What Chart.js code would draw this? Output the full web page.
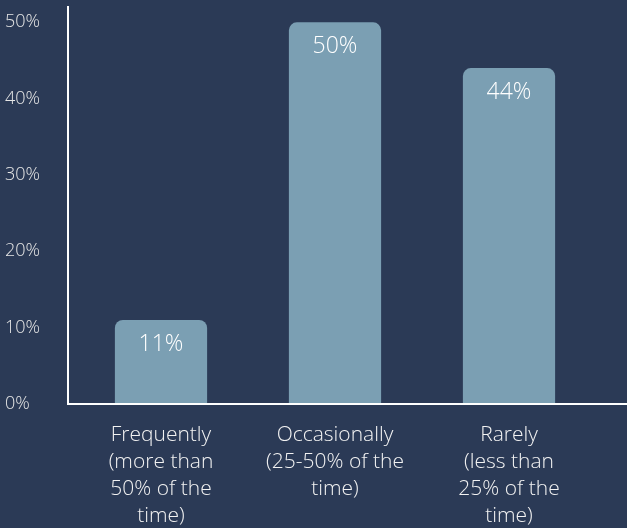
<!DOCTYPE html>
<html>
<head>
<meta charset="utf-8">
<script src="https://cdn.jsdelivr.net/npm/chart.js@4"></script>
<style>
  html, body { margin: 0; padding: 0; background: #2b3a56; }
  #wrap { width: 627px; height: 528px; }
</style>
</head>
<body>
<div id="wrap"><canvas id="chart-frecuencia"></canvas></div>
<script>
// categorias y valores (porcentaje de respuestas)
const categorias = [
  ['Frequently', '(more than', '50% of the', 'time)'],
  ['Occasionally', '(25-50% of the', 'time)'],
  ['Rarely', '(less than', '25% of the', 'time)']
];
const valores = [11, 50, 44];
const ticksY = [0, 10, 20, 30, 40, 50];

const FONDO = '#2b3a56';
const BARRA = '#7b9fb3';
const FUENTE = "'Open Sans', 'Helvetica Neue', 'Liberation Sans', sans-serif";

// etiquetas de valor dentro de cada barra + ejes dibujados a mano
const etiquetasPlugin = {
  id: 'etiquetas',
  afterDatasetsDraw(chart) {
    const ctx = chart.ctx;
    const meta = chart.getDatasetMeta(0);
    ctx.save();
    ctx.fillStyle = '#ffffff';
    ctx.font = '300 23px ' + FUENTE;
    ctx.textAlign = 'center';
    ctx.textBaseline = 'middle';
    meta.data.forEach((bar, i) => {
      ctx.fillText(valores[i] + '%', bar.x, bar.y + 24);
    });
    ctx.restore();
  },
  afterDraw(chart) {
    const ctx = chart.ctx;
    const y0 = chart.scales.y.getPixelForValue(0);
    const xEje = chart.chartArea.left - 6;
    ctx.save();
    ctx.strokeStyle = '#ffffff';
    ctx.lineWidth = 2;
    ctx.beginPath();
    ctx.moveTo(xEje, 6);
    ctx.lineTo(xEje, y0 + 1);
    ctx.moveTo(xEje, y0);
    ctx.lineTo(chart.width, y0);
    ctx.stroke();
    ctx.restore();
  }
};

new Chart(document.getElementById('chart-frecuencia'), {
  type: 'bar',
  data: {
    labels: categorias,
    datasets: [{
      data: valores,
      backgroundColor: BARRA,
      borderRadius: { topLeft: 8, topRight: 8 },
      borderSkipped: 'start',
      barPercentage: 0.53,
      categoryPercentage: 1
    }]
  },
  options: {
    responsive: true,
    maintainAspectRatio: false,
    animation: false,
    layout: { padding: { top: 20, right: 31, left: 5, bottom: 0 } },
    plugins: {
      legend: { display: false },
      tooltip: { enabled: false }
    },
    scales: {
      x: {
        grid: { display: false },
        border: { display: false },
        afterFit(scale) { scale.height = 124; },
        ticks: {
          color: '#f2f2f2',
          padding: 10,
          maxRotation: 0,
          autoSkip: false,
          font: { family: FUENTE, size: 21, weight: 300, lineHeight: '27px' }
        }
      },
      y: {
        min: 0,
        max: 50.3,
        grid: { display: false },
        border: { display: false },
        afterFit(scale) { scale.width = 69; },
        afterBuildTicks(scale) {
          scale.ticks = ticksY.map(v => ({ value: v }));
        },
        ticks: {
          color: '#e6e6e6',
          crossAlign: 'far',
          font: { family: FUENTE, size: 18, weight: 300 },
          callback: v => v + '%'
        }
      }
    }
  },
  plugins: [etiquetasPlugin]
});
</script>
</body>
</html>
